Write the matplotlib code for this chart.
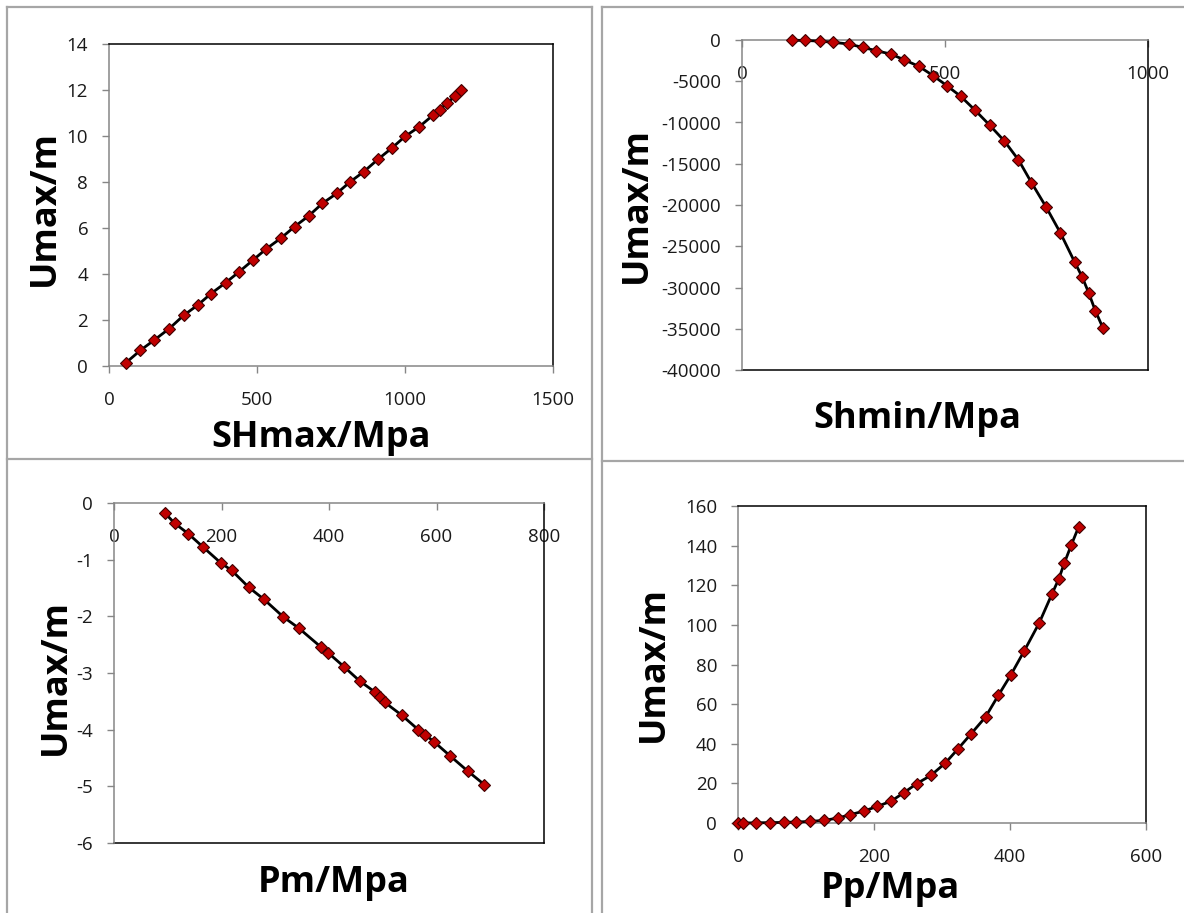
import matplotlib
matplotlib.use('Agg')
import matplotlib.pyplot as plt
from matplotlib.lines import Line2D

plt.rcParams['font.family'] = ['Open Sans', 'DejaVu Sans']
plt.rcParams['axes.unicode_minus'] = False

# ── data ──────────────────────────────────────
shmax_x = [58, 106, 152, 204, 252, 299, 345, 394, 440, 486, 532, 580, 627, 674,
           721, 769, 814, 861, 909, 955, 1000, 1048, 1096, 1117, 1142, 1168, 1188]
shmax_u = [0.15, 0.68, 1.12, 1.63, 2.2, 2.64, 3.15, 3.62, 4.1, 4.6, 5.1, 5.55, 6.06, 6.52,
           7.07, 7.5, 8.0, 8.45, 8.99, 9.47, 9.98, 10.4, 10.92, 11.14, 11.43, 11.72, 11.98]

shmin_x = [122, 156, 191, 225, 263, 297, 331, 366, 399, 436, 471, 505, 539, 573,
           610, 646, 681, 713, 749, 784, 819, 838, 854, 870, 889]
shmin_u = [-20, -60, -130, -280, -490, -890, -1300, -1700, -2390, -3200, -4330, -5550,
           -6840, -8460, -10320, -12230, -14530, -17290, -20240, -23360, -26880,
           -28740, -30650, -32790, -34900]

pm_x = [94, 113, 138, 166, 199, 219, 251, 279, 315, 344, 386, 398, 428, 457,
        486, 495, 504, 536, 566, 579, 595, 625, 658, 689]
pm_u = [-0.17, -0.36, -0.54, -0.78, -1.06, -1.19, -1.49, -1.70, -2.01, -2.21, -2.55,
        -2.64, -2.89, -3.14, -3.34, -3.42, -3.52, -3.75, -4.0, -4.09, -4.21, -4.46,
        -4.73, -4.97]

pp_x = [0, 8, 27, 47, 67, 86, 106, 126, 147, 165, 185, 205, 225, 244, 263, 284,
        305, 323, 343, 364, 383, 401, 421, 443, 462, 472, 480, 490, 501]
pp_u = [0, 0, 0.1, 0.2, 0.3, 0.5, 0.8, 1.3, 2.5, 4.2, 6, 8.4, 11, 15.3, 19.9, 24.1,
        30.3, 37.2, 45.1, 53.5, 64.5, 74.6, 86.9, 101, 115.8, 123.4, 131.3, 140.2, 149.5]

# ── layout helpers (pixel coords) ─────────────
W, H = 1184, 913
fig = plt.figure(figsize=(W / 100, H / 100), dpi=100)

AXIS_GRAY = '#868686'
CELL_GRAY = '#a6a6a6'
TXT = '#1a1a1a'


def add_ax(l, t, r, b):
    return fig.add_axes([l / W, 1 - b / H, (r - l) / W, (b - t) / H])


def fx(x):
    return x / W


def fy(y):
    return 1 - y / H


def style(ax, xlim, xticks, ylim, yticks, top_axis=False):
    ax.set_xlim(*xlim)
    ax.set_ylim(*ylim)
    ax.set_xticks(xticks)
    ax.set_yticks(yticks)
    for s in ['left', 'bottom']:
        ax.spines[s].set_color(AXIS_GRAY)
        ax.spines[s].set_linewidth(1.1)
    for s in ['top', 'right']:
        ax.spines[s].set_color('black')
        ax.spines[s].set_linewidth(1.1)
    if top_axis:
        # excel style: category axis crosses at y = 0 (top of the plot area)
        ax.spines['bottom'].set_position(('data', 0))
        ax.spines['top'].set_visible(False)
        ax.axhline(ylim[0], color='black', lw=1.1, clip_on=False)
    ax.tick_params(axis='both', direction='out', length=5, width=1,
                   color=AXIS_GRAY, labelsize=13.5, labelcolor=TXT)
    ax.tick_params(axis='y', pad=10)
    ax.tick_params(axis='x', pad=13)


def series(ax, x, y):
    ax.plot(x, y, color='black', lw=2.0, marker='D', ms=6.3,
            mfc='#c00000', mec='#400000', mew=0.8, clip_on=False, zorder=3)


def xlabel(text, x, y):
    fig.text(fx(x), fy(y), text, ha='center', va='baseline',
             fontsize=26, fontweight='bold', color='black')


def ylabel(text, x, y):
    fig.text(fx(x), fy(y), text, ha='center', va='baseline', rotation=90,
             rotation_mode='anchor', fontsize=26, fontweight='bold', color='black')


# ── table cell borders ────────────────────────
def cell_line(x0, y0, x1, y1):
    fig.add_artist(Line2D([fx(x0), fx(x1)], [fy(y0), fy(y1)],
                          transform=fig.transFigure, color=CELL_GRAY, lw=1.6))


cell_line(7, 7, 7, H)
cell_line(7, 7, 592, 7)
cell_line(592, 7, 592, H)
cell_line(7, 459, 592, 459)
cell_line(602, 7, 602, H)
cell_line(602, 7, W, 7)
cell_line(602, 461, W, 461)

# ── SHmax ─────────────────────────────────────
ax1 = add_ax(109, 44, 553, 366)
style(ax1, (0, 1500), [0, 500, 1000, 1500], (0, 14), range(0, 15, 2))
series(ax1, shmax_x, shmax_u)
xlabel('SHmax/Mpa', 321, 447)
ylabel('Umax/m', 54, 208)

# ── Shmin ─────────────────────────────────────
ax2 = add_ax(742, 40, 1148, 370)
style(ax2, (0, 1000), [0, 500, 1000], (-40000, 0), range(-40000, 1, 5000), top_axis=True)
series(ax2, shmin_x, shmin_u)
xlabel('Shmin/Mpa', 917, 428)
ylabel('Umax/m', 646, 205)

# ── Pm ────────────────────────────────────────
ax3 = add_ax(114, 503, 544, 843)
style(ax3, (0, 800), [0, 200, 400, 600, 800], (-6, 0), range(-6, 1), top_axis=True)
series(ax3, pm_x, pm_u)
xlabel('Pm/Mpa', 334, 892)
ylabel('Umax/m', 65, 677)

# ── Pp ────────────────────────────────────────
ax4 = add_ax(738, 506, 1146, 823)
style(ax4, (0, 600), [0, 200, 400, 600], (0, 160), range(0, 161, 20))
series(ax4, pp_x, pp_u)
xlabel('Pp/Mpa', 890, 898)
ylabel('Umax/m', 663, 664)

fig.savefig('out.png', dpi=100, facecolor='white')
